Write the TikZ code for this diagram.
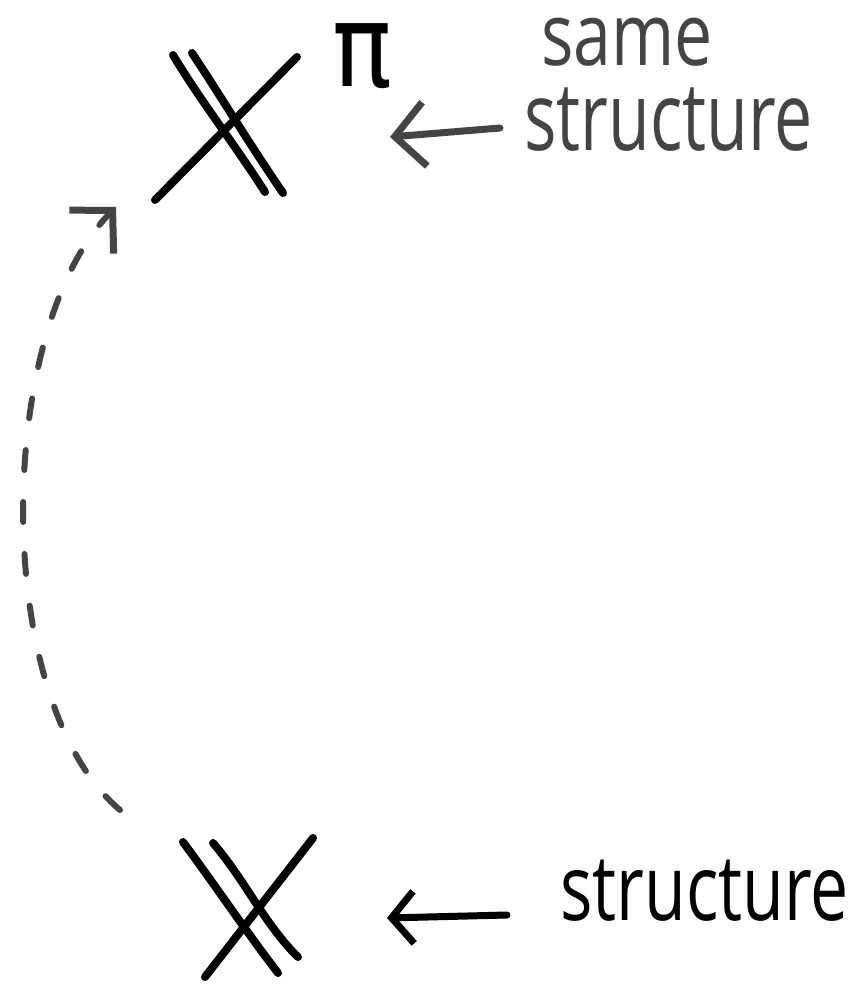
\documentclass[tikz,border=0pt]{standalone}
\usepackage{fontspec}
\usepackage{graphicx}
\setmainfont{Open Sans}
\newfontfamily\pifont{DejaVu Sans}
\usetikzlibrary{arrows.meta}
\definecolor{ink}{HTML}{000000}
\definecolor{pencil}{HTML}{444444}
\tikzset{
  stroke/.style={line width=8pt, line cap=round, line join=round},
  xline/.style={stroke, draw=ink},
  hand/.style={font=\fontsize{68}{68}\selectfont, inner sep=0pt, anchor=base west},
  pointer/.style={stroke, line width=7pt},
  dashlink/.style={line width=6pt, line cap=round, draw=pencil, dash pattern=on 20pt off 32pt,
    -{Straight Barb[length=30pt,width=62pt,line width=7pt]}},
}
\begin{document}
\begin{tikzpicture}[x=1pt,y=-1pt]
\useasboundingbox (0,0) rectangle (859,985);

% ---- top X with pi ----
\coordinate (topX) at (228,122);
\draw[xline] (155,200) -- (297,57);
\draw[xline] (173,55) .. controls (200,100) and (235,145) .. (265,192);
\draw[xline] (192,53) .. controls (220,95) and (250,145) .. (283,193);
\node[font=\pifont\fontsize{92}{92}\selectfont, inner sep=0pt, anchor=base] (pi) at (362,86) {\scalebox{1.08}[1.25]{π}};

% ---- bottom X ----
\coordinate (botX) at (248,905);
\draw[xline] (205,977) -- (313,838);
\draw[xline] (183,842) .. controls (215,885) and (245,930) .. (278,973);
\draw[xline] (213,843) .. controls (245,880) and (265,925) .. (298,957);

% ---- texts ----
\node[hand, text=pencil] (same) at (541,65) {\scalebox{1}[1.28]{same}};
\node[hand, text=pencil] (topText) at (524,150) {\scalebox{1}[1.4]{structure}};
\node[hand, text=ink] (botText) at (560,920) {\scalebox{1}[1.35]{structure}};

% ---- pointer arrows ----
\coordinate (topTail) at (500,128);
\coordinate (topTip) at (390,137);
\draw[pointer, draw=pencil, -{Straight Barb[length=30pt,width=64pt]}] (topTail) -- (topTip);
\coordinate (botTail) at (507,915);
\coordinate (botTip) at (387,918);
\draw[pointer, draw=ink, -{Straight Barb[length=22pt,width=52pt]}] (botTail) -- (botTip);

% ---- dashed curved link ----
\coordinate (dashStart) at (120,810);
\coordinate (dashEnd) at (116,207);
\draw[dashlink] (dashStart) .. controls (-10,700) and (-5,330) .. (dashEnd);
\end{tikzpicture}
\end{document}
